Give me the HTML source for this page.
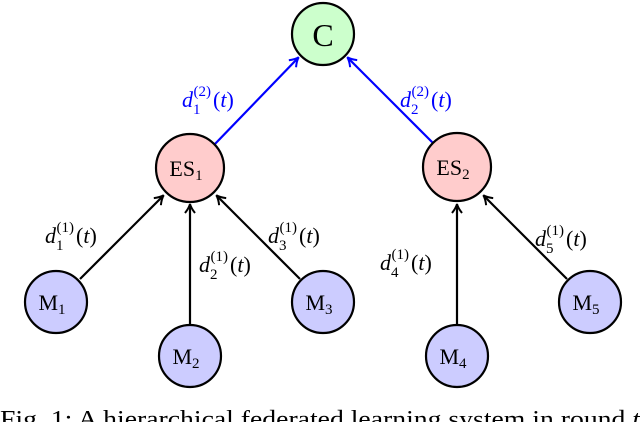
<!DOCTYPE html>
<html><head><meta charset="utf-8"><style>
html,body{margin:0;padding:0;background:#fff;width:640px;height:422px;overflow:hidden}
svg{display:block}
text{font-family:"Liberation Serif",serif}
</style></head><body>
<svg width="640" height="422" viewBox="0 0 640 422" xmlns="http://www.w3.org/2000/svg">
<defs>
<marker id="ak" markerWidth="12" markerHeight="12" refX="9" refY="6" orient="auto" markerUnits="userSpaceOnUse">
<path d="M1,1 Q6,5 10,6 Q6,7 1,11" fill="none" stroke="#000" stroke-width="2"/></marker>
<marker id="ab" markerWidth="12" markerHeight="12" refX="9" refY="6" orient="auto" markerUnits="userSpaceOnUse">
<path d="M1,1 Q6,5 10,6 Q6,7 1,11" fill="none" stroke="#0000ff" stroke-width="2"/></marker>
</defs>
<g stroke-width="2.2" fill="none">
<line x1="214" y1="145" x2="298" y2="58" stroke="#0000ff" marker-end="url(#ab)"/>
<line x1="433" y1="143" x2="348" y2="58" stroke="#0000ff" marker-end="url(#ab)"/>
<line x1="80" y1="279" x2="163" y2="196" stroke="#000" marker-end="url(#ak)"/>
<line x1="190" y1="325" x2="190" y2="205" stroke="#000" marker-end="url(#ak)"/>
<line x1="300" y1="279" x2="217" y2="196" stroke="#000" marker-end="url(#ak)"/>
<line x1="457" y1="325" x2="457" y2="205" stroke="#000" marker-end="url(#ak)"/>
<line x1="567" y1="279" x2="484" y2="196" stroke="#000" marker-end="url(#ak)"/>
</g>
<g stroke="#000" stroke-width="2.2">
<circle cx="323" cy="34" r="31" fill="#ccffcc"/>
<circle cx="190" cy="168" r="34" fill="#ffcccc"/>
<circle cx="457" cy="167" r="34" fill="#ffcccc"/>
<circle cx="56" cy="302" r="31" fill="#ccccff"/>
<circle cx="190" cy="356" r="31" fill="#ccccff"/>
<circle cx="323" cy="302" r="31" fill="#ccccff"/>
<circle cx="457" cy="356" r="31" fill="#ccccff"/>
<circle cx="590" cy="302" r="31" fill="#ccccff"/>
</g>
<g font-size="22" fill="#000" text-anchor="middle">
<text x="323" y="46" font-size="32">C</text>
<text x="186" y="176">ES<tspan font-size="15" dy="4">1</tspan></text>
<text x="453" y="175">ES<tspan font-size="15" dy="4">2</tspan></text>
<text x="52" y="310">M<tspan font-size="15" dy="4">1</tspan></text>
<text x="186" y="364">M<tspan font-size="15" dy="4">2</tspan></text>
<text x="319" y="310">M<tspan font-size="15" dy="4">3</tspan></text>
<text x="453" y="364">M<tspan font-size="15" dy="4">4</tspan></text>
<text x="586" y="310">M<tspan font-size="15" dy="4">5</tspan></text>
</g>
<g font-size="22">
<text x="182" y="107" fill="#0000ff"><tspan font-style="italic">d</tspan><tspan font-size="15" dy="7">1</tspan><tspan font-size="15" dx="-7" dy="-18">(2)</tspan><tspan dy="11" dx="2">(</tspan><tspan font-style="italic">t</tspan>)</text>
<text x="400" y="107" fill="#0000ff"><tspan font-style="italic">d</tspan><tspan font-size="15" dy="7">2</tspan><tspan font-size="15" dx="-7" dy="-18">(2)</tspan><tspan dy="11" dx="2">(</tspan><tspan font-style="italic">t</tspan>)</text>
<text x="45" y="243"><tspan font-style="italic">d</tspan><tspan font-size="15" dy="7">1</tspan><tspan font-size="15" dx="-7" dy="-18">(1)</tspan><tspan dy="11" dx="2">(</tspan><tspan font-style="italic">t</tspan>)</text>
<text x="199" y="272"><tspan font-style="italic">d</tspan><tspan font-size="15" dy="7">2</tspan><tspan font-size="15" dx="-7" dy="-18">(1)</tspan><tspan dy="11" dx="2">(</tspan><tspan font-style="italic">t</tspan>)</text>
<text x="268" y="243"><tspan font-style="italic">d</tspan><tspan font-size="15" dy="7">3</tspan><tspan font-size="15" dx="-7" dy="-18">(1)</tspan><tspan dy="11" dx="2">(</tspan><tspan font-style="italic">t</tspan>)</text>
<text x="380" y="270"><tspan font-style="italic">d</tspan><tspan font-size="15" dy="7">4</tspan><tspan font-size="15" dx="-7" dy="-18">(1)</tspan><tspan dy="11" dx="2">(</tspan><tspan font-style="italic">t</tspan>)</text>
<text x="535" y="246"><tspan font-style="italic">d</tspan><tspan font-size="15" dy="7">5</tspan><tspan font-size="15" dx="-7" dy="-18">(1)</tspan><tspan dy="11" dx="2">(</tspan><tspan font-style="italic">t</tspan>)</text>
</g>
<text x="0" y="427" font-size="24" textLength="640" lengthAdjust="spacingAndGlyphs">Fig. 1: A hierarchical federated learning system in round <tspan font-style="italic">t</tspan></text>
</svg>
</body></html>
